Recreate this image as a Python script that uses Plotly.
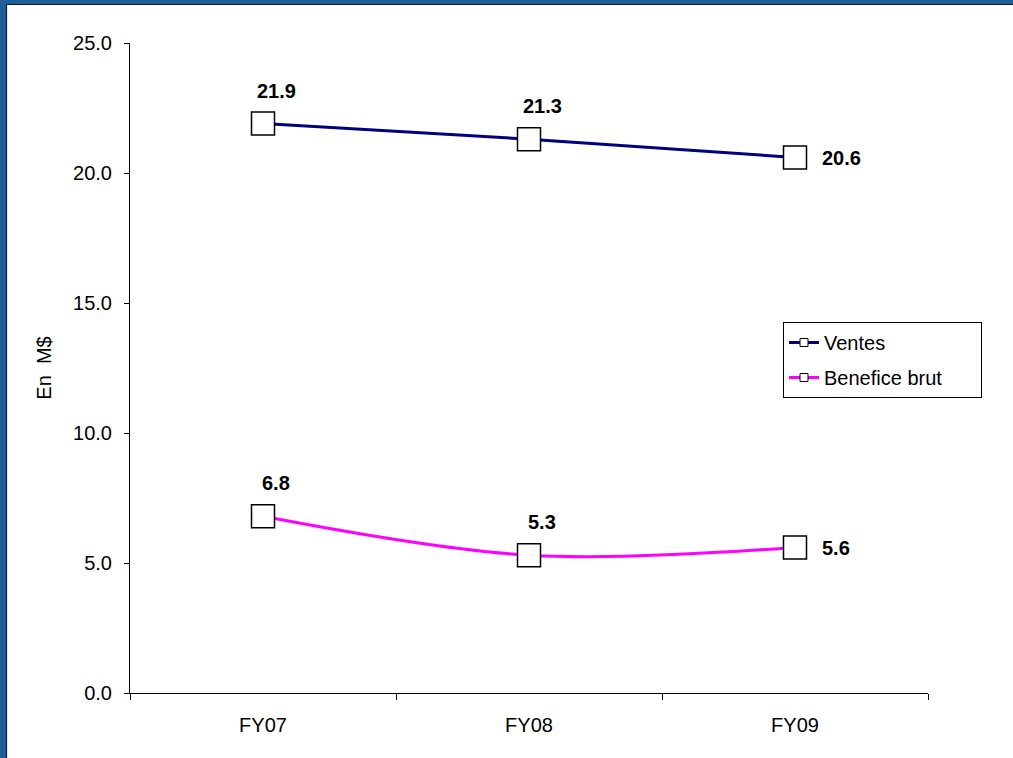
import plotly.graph_objects as go

categories = ["FY07", "FY08", "FY09"]
ventes = [21.9, 21.3, 20.6]
benefice = [6.8, 5.3, 5.6]
y_ticks = [0, 5, 10, 15, 20, 25]
y_tick_labels = ["0.0", "5.0", "10.0", "15.0", "20.0", "25.0"]
label_side = ["above", "above", "right"]
series_names = ["Ventes", "Benefice brut"]

W, H = 1013, 758
L, R, T, B = 130, 85, 43, 65
pw, ph = W - L - R, H - T - B

def px(x):
    return (x - L) / pw

def py(y):
    return (H - B - y) / ph

font = "Liberation Sans, Arial, sans-serif"
FS = 20
fig = go.Figure()

marker = dict(symbol="square", size=23, color="white", line=dict(color="black", width=1.5))
fig.add_trace(go.Scatter(
    x=categories, y=ventes, mode="lines+markers",
    line=dict(color="#000080", width=3), marker=marker,
    showlegend=False, cliponaxis=False))
fig.add_trace(go.Scatter(
    x=categories, y=benefice, mode="lines+markers",
    line=dict(color="#FF00FF", width=3, shape="spline", smoothing=1.0), marker=marker,
    showlegend=False, cliponaxis=False))

# legend entries
small = dict(symbol="square", size=8, color="white", line=dict(color="black", width=1))
pad = "&nbsp;" * 6
fig.add_trace(go.Scatter(x=[None], y=[None], mode="lines+markers", name=series_names[0],
    line=dict(color="#000080", width=3), marker=small, legendgroup="a"))
fig.add_trace(go.Scatter(x=[None], y=[None], mode="lines+markers", name=series_names[1] + pad,
    line=dict(color="#FF00FF", width=3), marker=small, legendgroup="b"))

annotations = []
for series in (ventes, benefice):
    for cat, val, side in zip(categories, series, label_side):
        if side == "above":
            annotations.append(dict(x=cat, y=val, xref="x", yref="y", text=f"<b>{val:.1f}</b>",
                                    showarrow=False, xanchor="center", yanchor="middle",
                                    xshift=13, yshift=33, borderpad=0,
                                    font=dict(family=font, size=FS, color="black")))
        else:
            annotations.append(dict(x=cat, y=val, xref="x", yref="y", text=f"<b>{val:.1f}</b>",
                                    showarrow=False, xanchor="left", yanchor="middle",
                                    xshift=26, yshift=-1, borderpad=0,
                                    font=dict(family=font, size=FS, color="black")))

fig.update_layout(
    width=W, height=H,
    margin=dict(l=L, r=R, t=T, b=B),
    paper_bgcolor="white", plot_bgcolor="white",
    font=dict(family=font, size=FS, color="black"),
    annotations=annotations,
    legend=dict(x=px(783), y=py(322), xanchor="left", yanchor="top",
                bordercolor="black", borderwidth=1, bgcolor="white",
                font=dict(size=FS), tracegroupgap=6, itemwidth=30),
    shapes=[
        dict(type="rect", xref="paper", yref="paper", x0=px(-5), x1=px(6), y0=py(770), y1=py(-5),
             fillcolor="#1F5E96", line=dict(width=0), layer="above"),
        dict(type="rect", xref="paper", yref="paper", x0=px(-5), x1=px(1020), y0=py(4), y1=py(-5),
             fillcolor="#1F5E96", line=dict(width=0), layer="above"),
        dict(type="line", xref="paper", yref="paper", x0=px(6.5), x1=px(6.5), y0=py(770), y1=py(4.5),
             line=dict(color="#0A1A30", width=1.2), layer="above"),
        dict(type="line", xref="paper", yref="paper", x0=px(6), x1=px(1020), y0=py(4.5), y1=py(4.5),
             line=dict(color="#0A1A30", width=1.2), layer="above"),
    ],
)
fig.update_xaxes(type="category", range=[-0.5, 2.5], showline=True, linecolor="black", linewidth=1,
                 ticks="outside", tickson="boundaries", ticklen=6, tickcolor="black",
                 showgrid=False, zeroline=False, tickfont=dict(size=FS), ticklabelstandoff=14)
fig.update_yaxes(range=[0, 25], tickvals=y_ticks, ticktext=y_tick_labels, showline=True,
                 linecolor="black", linewidth=1, ticks="outside", ticklen=5, tickcolor="black",
                 showgrid=False, zeroline=False, tickfont=dict(size=FS), ticklabelstandoff=8,
                 title=dict(text="En&nbsp; M$", font=dict(size=FS), standoff=16))

fig.write_html("out.html")
